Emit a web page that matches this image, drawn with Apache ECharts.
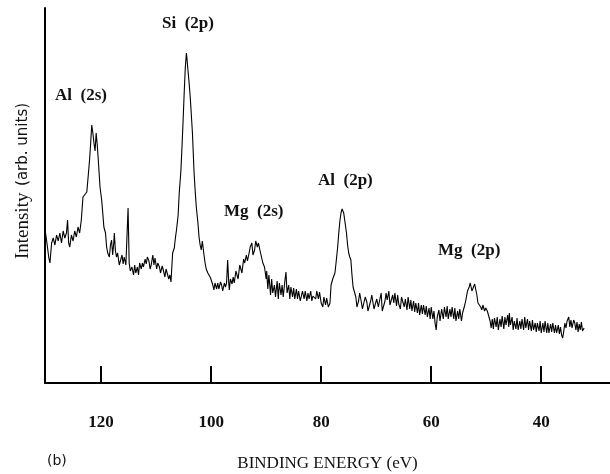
<!DOCTYPE html>
<html>
<head>
<meta charset="utf-8">
<script src="https://cdn.jsdelivr.net/npm/echarts@6/dist/echarts.min.js"></script>
<style>
  html, body { margin: 0; padding: 0; background: #fff; }
  #chart { width: 610px; height: 474px; }
</style>
</head>
<body>
<div id="chart"></div>
<script>
// binding energy (eV)
var energy = [
  130.1, 129.8, 129.5, 129.3, 129.0, 128.7, 128.4, 128.1, 127.8, 127.5,
  127.2, 126.9, 126.6, 126.3, 126.1, 125.9, 125.7, 125.4, 125.1, 124.8,
  124.5, 124.2, 123.9, 123.6, 123.3, 123.0, 122.6, 122.3, 122.1, 121.9,
  121.7, 121.5, 121.3, 121.1, 120.9, 120.7, 120.5, 120.2, 119.9, 119.7,
  119.5, 119.2, 119.0, 118.8, 118.5, 118.3, 118.1, 117.9, 117.7, 117.6,
  117.4, 117.2, 117.0, 116.7, 116.5, 116.2, 116.0, 115.8, 115.5, 115.3,
  115.1, 114.9, 114.7, 114.4, 114.1, 113.9, 113.7, 113.4, 113.2, 113.0,
  112.7, 112.5, 112.3, 112.0, 111.8, 111.6, 111.3, 111.1, 110.9, 110.6,
  110.4, 110.2, 109.9, 109.7, 109.4, 109.2, 108.9, 108.7, 108.4, 108.2,
  108.0, 107.7, 107.5, 107.3, 107.0, 106.7, 106.5, 106.3, 106.0, 105.8,
  105.5, 105.3, 105.1, 104.9, 104.7, 104.5, 104.4, 104.3, 104.2, 104.0,
  103.8, 103.6, 103.4, 103.1, 102.9, 102.7, 102.4, 102.2, 102.0, 101.8,
  101.6, 101.5, 101.3, 101.1, 100.9, 100.6, 100.4, 100.1, 99.9, 99.7,
  99.5, 99.3, 99.0, 98.8, 98.6, 98.3, 98.1, 97.9, 97.6, 97.4,
  97.2, 97.0, 96.8, 96.7, 96.5, 96.2, 96.0, 95.8, 95.5, 95.3,
  95.1, 94.8, 94.6, 94.4, 94.1, 93.9, 93.6, 93.4, 93.1, 92.9,
  92.6, 92.4, 92.1, 91.9, 91.6, 91.4, 91.1, 90.9, 90.6, 90.3,
  90.0, 89.9, 89.7, 89.5, 89.2, 89.0, 88.8, 88.5, 88.3, 88.0,
  87.8, 87.6, 87.3, 87.1, 86.9, 86.6, 86.4, 86.2, 85.9, 85.7,
  85.5, 85.2, 85.0, 84.8, 84.5, 84.3, 84.1, 83.8, 83.6, 83.4,
  83.1, 82.9, 82.6, 82.4, 82.2, 81.9, 81.7, 81.5, 81.2, 81.0,
  80.8, 80.5, 80.3, 80.0, 79.7, 79.5, 79.2, 79.0, 78.7, 78.4,
  78.2, 78.1, 77.9, 77.7, 77.5, 77.3, 77.0, 76.8, 76.6, 76.4,
  76.2, 76.1, 75.9, 75.8, 75.6, 75.4, 75.2, 75.0, 74.8, 74.6,
  74.4, 74.2, 74.0, 73.7, 73.5, 73.2, 73.0, 72.7, 72.5, 72.2,
  72.0, 71.7, 71.5, 71.2, 71.0, 70.8, 70.6, 70.4, 70.1, 69.9,
  69.6, 69.4, 69.1, 68.9, 68.7, 68.4, 68.2, 68.0, 67.7, 67.5,
  67.3, 67.0, 66.8, 66.6, 66.3, 66.1, 65.9, 65.6, 65.4, 65.2,
  64.9, 64.7, 64.4, 64.2, 63.9, 63.7, 63.5, 63.2, 63.0, 62.8,
  62.5, 62.3, 62.1, 61.8, 61.6, 61.4, 61.1, 60.9, 60.7, 60.4,
  60.2, 60.0, 59.7, 59.5, 59.3, 59.1, 58.9, 58.6, 58.4, 58.1,
  57.8, 57.6, 57.3, 57.1, 56.9, 56.6, 56.4, 56.2, 55.9, 55.7,
  55.5, 55.2, 55.0, 54.8, 54.5, 54.3, 54.1, 53.9, 53.7, 53.4,
  53.1, 52.9, 52.8, 52.6, 52.3, 52.1, 51.9, 51.7, 51.5, 51.3,
  51.0, 50.8, 50.6, 50.3, 50.1, 49.8, 49.5, 49.3, 49.1, 48.9,
  48.7, 48.5, 48.2, 48.0, 47.8, 47.5, 47.3, 47.1, 46.8, 46.6,
  46.4, 46.1, 45.9, 45.8, 45.6, 45.3, 45.1, 44.9, 44.6, 44.4,
  44.2, 43.9, 43.7, 43.5, 43.2, 43.0, 42.8, 42.5, 42.3, 42.1,
  41.8, 41.6, 41.4, 41.1, 40.9, 40.7, 40.4, 40.2, 40.0, 39.7,
  39.5, 39.3, 39.0, 38.8, 38.6, 38.3, 38.1, 37.9, 37.6, 37.4,
  37.2, 36.9, 36.7, 36.5, 36.3, 36.1, 35.9, 35.7, 35.5, 35.3,
  35.0, 34.8, 34.6, 34.4, 34.1, 33.9, 33.7, 33.5, 33.3, 33.1,
  32.9, 32.7, 32.5, 32.2
];
// intensity (arb. units)
var intensity = [
  150, 138, 125, 120, 140, 145, 138, 148, 142, 150,
  140, 152, 145, 150, 163, 140, 136, 148, 142, 152,
  146, 156, 150, 163, 186, 188, 191, 210, 223, 240,
  258, 250, 240, 232, 250, 238, 222, 196, 183, 170,
  156, 150, 136, 130, 126, 138, 143, 128, 140, 150,
  132, 126, 130, 118, 120, 128, 119, 126, 118, 120,
  175, 120, 112, 116, 108, 118, 110, 116, 108, 120,
  114, 120, 116, 124, 119, 126, 122, 114, 118, 128,
  118, 125, 114, 120, 116, 110, 117, 113, 106, 114,
  110, 104, 108, 101, 130, 135, 145, 153, 168, 190,
  212, 236, 262, 290, 315, 330, 325, 318, 316, 300,
  286, 268, 250, 210, 192, 176, 160, 146, 138, 133,
  142, 140, 128, 120, 114, 110, 112, 105, 106, 98,
  93, 100, 94, 100, 94, 101, 98, 92, 100, 96,
  100, 123, 100, 93, 104, 99, 106, 100, 112, 110,
  104, 118, 116, 110, 124, 120, 128, 122, 130, 136,
  140, 128, 133, 142, 136, 140, 132, 130, 120, 116,
  104, 112, 94, 108, 88, 104, 90, 98, 86, 102,
  84, 100, 88, 98, 86, 102, 111, 90, 98, 84,
  96, 86, 95, 84, 94, 84, 92, 82, 83, 92,
  84, 92, 82, 90, 84, 92, 82, 87, 86, 84,
  92, 84, 91, 80, 76, 86, 78, 85, 76, 80,
  98, 100, 104, 103, 110, 120, 136, 150, 162, 170,
  174, 176, 170, 166, 158, 150, 138, 130, 126, 123,
  108, 96, 92, 86, 76, 82, 90, 81, 74, 73,
  86, 81, 72, 71, 82, 88, 81, 74, 73, 84,
  76, 82, 90, 72, 71, 82, 90, 83, 92, 78,
  76, 88, 80, 90, 77, 88, 79, 74, 86, 85,
  76, 84, 73, 86, 74, 83, 72, 82, 71, 80,
  70, 80, 68, 78, 69, 78, 68, 77, 66, 75,
  64, 76, 64, 72, 60, 53, 66, 73, 62, 74,
  64, 76, 66, 77, 64, 74, 66, 76, 64, 75,
  62, 72, 64, 74, 62, 70, 72, 78, 83, 92,
  96, 100, 101, 92, 90, 99, 98, 88, 80, 82,
  76, 73, 78, 72, 75, 72, 71, 62, 55, 64,
  54, 65, 56, 66, 53, 64, 56, 67, 54, 66,
  58, 68, 56, 70, 58, 66, 53, 62, 54, 65,
  53, 62, 54, 64, 53, 66, 55, 64, 53, 62,
  52, 63, 53, 60, 51, 60, 52, 62, 50, 60,
  51, 62, 50, 60, 50, 59, 51, 60, 50, 58,
  50, 58, 49, 56, 48, 45, 52, 60, 55, 62,
  66, 56, 63, 55, 63, 60, 53, 61, 51, 59,
  53, 61, 52, 55
];
var tickValues = [120, 100, 80, 60, 40];
var peakLabels = ['Al  (2s)', 'Si  (2p)', 'Mg  (2s)', 'Al  (2p)', 'Mg  (2p)'];

var serif = '"Liberation Serif", "DejaVu Serif", serif';
var labelPos = [[55, 97], [162, 25], [224, 213], [318, 182], [438, 252]];

var chart = echarts.init(document.getElementById('chart'));

var graphics = peakLabels.map(function (t, i) {
  return {
    type: 'text', left: labelPos[i][0], top: labelPos[i][1] - 10,
    style: { text: t, font: 'bold 17px ' + serif, fill: '#111' }
  };
});
graphics.push({
  type: 'text', left: 47, top: 454,
  style: { text: '(b)', font: '14px "DejaVu Sans", sans-serif', fill: '#111' }
});
graphics.push({
  type: 'text', x: 23, y: 181, rotation: Math.PI / 2,
  style: {
    text: '{a|Intensity}  {b|(arb. units)}',
    align: 'center', verticalAlign: 'middle',
    rich: {
      a: { fontFamily: serif, fontSize: 19, fill: '#111' },
      b: { fontFamily: '"DejaVu Sans", sans-serif', fontSize: 15, fill: '#111' }
    }
  }
});

chart.setOption({
  animation: false,
  grid: { left: 45, right: 0, top: 8, bottom: 91, outerBoundsMode: 'none' },
  graphic: graphics,
  xAxis: {
    type: 'value',
    inverse: true,
    min: 27.5,
    max: 130.2,
    name: 'BINDING ENERGY (eV)',
    nameLocation: 'middle',
    nameGap: 72,
    nameTextStyle: { fontFamily: serif, fontSize: 17, color: '#111' },
    axisLine: { lineStyle: { color: '#000', width: 2 } },
    axisTick: { inside: true, length: 17, customValues: tickValues, lineStyle: { color: '#000', width: 2 } },
    axisLabel: { customValues: tickValues, margin: 31, fontFamily: serif, fontWeight: 'bold', fontSize: 17, color: '#111' },
    splitLine: { show: false }
  },
  yAxis: {
    type: 'value',
    min: 0,
    max: 375,
    axisLine: { show: true, lineStyle: { color: '#000', width: 2 } },
    axisTick: { show: false },
    axisLabel: { show: false },
    splitLine: { show: false }
  },
  series: [{
    type: 'line',
    data: energy.map(function (e, i) { return [e, intensity[i]]; }),
    showSymbol: false,
    lineStyle: { color: '#000', width: 1.1 }
  }]
});
</script>
</body>
</html>
